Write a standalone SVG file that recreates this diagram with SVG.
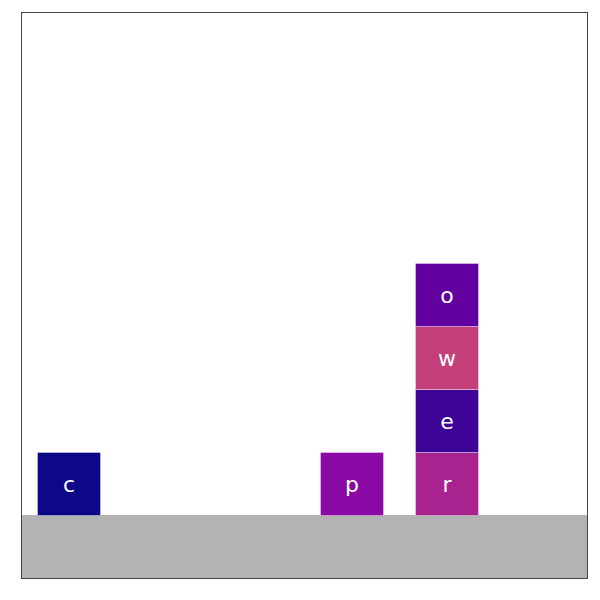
<svg xmlns="http://www.w3.org/2000/svg" width="600" height="600" viewBox="0 0 600 600">
<style>
.blk rect{stroke:#ffffff;stroke-opacity:0.35;stroke-width:1}
.blk text{fill:#ffffff;font-family:"DejaVu Sans",sans-serif;font-size:22px;text-anchor:middle;dominant-baseline:central}
</style>
<rect x="0" y="0" width="600" height="600" fill="#ffffff"/>
<rect id="ground" x="22" y="515" width="566" height="63" fill="#b3b3b3"/>
<rect x="21.5" y="12.5" width="566" height="566" fill="none" stroke="#444444" stroke-width="1"/>
<g id="c" class="blk"><rect x="37.5" y="452.5" width="63" height="63" fill="#0d0887"/><text x="69" y="484">c</text></g>
<g id="p" class="blk"><rect x="320.5" y="452.5" width="63" height="63" fill="#8b0aa5"/><text x="352" y="484">p</text></g>
<g id="r" class="blk"><rect x="415.5" y="452.5" width="63" height="63" fill="#a8238f"/><text x="447" y="484">r</text></g>
<g id="e" class="blk"><rect x="415.5" y="389.5" width="63" height="63" fill="#3e0495"/><text x="447" y="421">e</text></g>
<g id="w" class="blk"><rect x="415.5" y="326.5" width="63" height="63" fill="#c43e7a"/><text x="447" y="358">w</text></g>
<g id="o" class="blk"><rect x="415.5" y="263.5" width="63" height="63" fill="#6300a0"/><text x="447" y="295">o</text></g>
</svg>
